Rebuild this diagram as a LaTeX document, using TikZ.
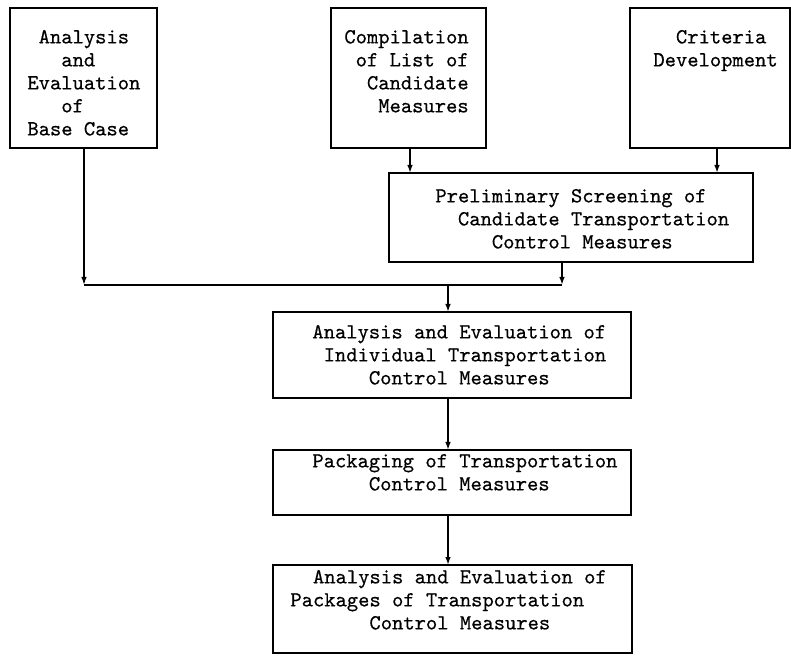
\documentclass[tikz,border=0pt]{standalone}
\usepackage{fontspec}
\newfontfamily\typewriter{lmmono10-regular.otf}[FakeBold=0.5]
\usetikzlibrary{arrows.meta}
\begin{document}
\begin{tikzpicture}[x=0.5pt,y=-0.5pt,
  box/.style={draw, line width=0.9pt, inner sep=0pt, outer sep=0pt},
  txt/.style={anchor=north west, inner sep=0pt, align=left,
    font=\typewriter\fontsize{10.76pt}{11.5pt}\selectfont},
  link/.style={line width=0.9pt},
  arr/.style={line width=0.9pt, -{Latex[length=4pt,width=2.8pt]}}]
\useasboundingbox (0,0) rectangle (791,656);

% boxes
\node[box, minimum width=73.5pt, minimum height=70pt]   (A) at (83.5,78)  {};
\node[box, minimum width=77.5pt, minimum height=70pt]   (B) at (408.5,78) {};
\node[box, minimum width=80pt,   minimum height=70pt]   (C) at (710,78)   {};
\node[box, minimum width=182pt,  minimum height=44.5pt] (D) at (571,217.5) {};
\node[box, minimum width=179pt,  minimum height=43pt]   (E) at (452,355)  {};
\node[box, minimum width=179pt,  minimum height=32.5pt] (F) at (452,482.5) {};
\node[box, minimum width=179.5pt,minimum height=44pt]   (G) at (452.5,609) {};

% typed texts
\node[txt] (tA) at (27,26.9)  {\strut\phantom{x}Analysis\\\phantom{xxx}and\\Evaluation\\\phantom{xxx}of\\Base Case};
\node[txt] (tB) at (344,26.9) {\strut Compilation\\\phantom{x}of List of\\\phantom{xx}Candidate\\\phantom{xxx}Measures};
\node[txt] (tC) at (653,26.9) {\strut\phantom{xx}Criteria\\Development};
\node[txt] (tD) at (435,185.9) {\strut Preliminary Screening of\\\phantom{xx}Candidate Transportation\\\phantom{xxxxx}Control Measures};
\node[txt] (tE) at (312,321.9) {\strut Analysis and Evaluation of\\\phantom{x}Individual Transportation\\\phantom{xxxxx}Control Measures};
\node[txt] (tF) at (312,450.9) {\strut Packaging of Transportation\\\phantom{xxxxx}Control Measures};
\node[txt] (tG) at (290,566.9) {\strut\phantom{xx}Analysis and Evaluation of\\Packages of Transportation\\\phantom{xxxxxxx}Control Measures};

% junction points
\coordinate (j1) at (84,285);
\coordinate (j2) at (562,285);
\coordinate (j3) at (448,285);
\coordinate (kB) at (410,0);
\coordinate (kC) at (717,0);

% connectors
\draw[arr] (B.south -| kB) -- (D.north -| kB);
\draw[arr] (C.south -| kC) -- (D.north -| kC);
\draw[arr] (A.south -| j1) -- (j1);
\draw[arr] (D.south -| j2) -- (j2);
\draw[link] (j1) -- (j2);
\draw[arr] (j3) -- (E.north -| j3);
\draw[arr] (E.south -| j3) -- (F.north -| j3);
\draw[arr] (F.south -| j3) -- (G.north -| j3);
\end{tikzpicture}
\end{document}
